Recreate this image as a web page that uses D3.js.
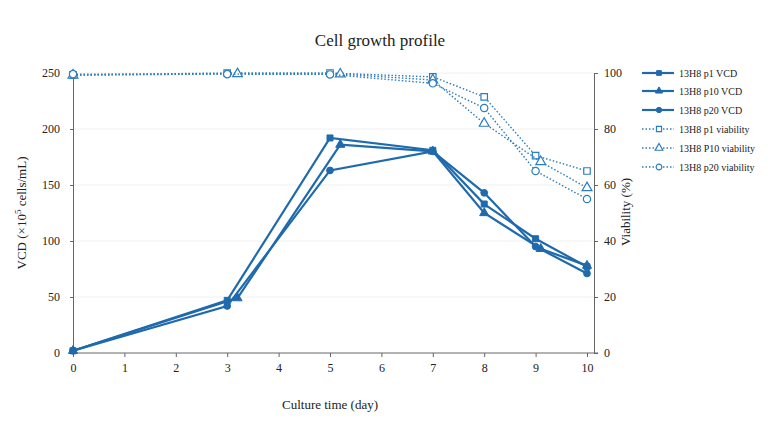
<!DOCTYPE html>
<html><head><meta charset="utf-8">
<script src="https://cdn.jsdelivr.net/npm/d3@7"></script>
<style>body{margin:0;background:#fff}svg{display:block}text{font-family:"Liberation Serif","DejaVu Serif",serif}</style>
</head><body><svg id="c" width="770" height="440"></svg>
<script>
// Data
const seriesNames = ["13H8 p1 VCD","13H8 p10 VCD","13H8 p20 VCD","13H8 p1 viability","13H8 P10 viability","13H8 p20 viability"];
const daysA = [0,3,5,7,8,9,10];
const daysB = [0,3.2,5.2,7,8,9.1,10];
const vcdP1 = [2,47,192,181,133,102,77];
const vcdP10 = [2,49,186,180,125,93,78];
const vcdP20 = [2,42,163,180,143,95,71];
const viaP1 = [99.3,100,100,98.6,91.5,70.5,65];
const viaP10 = [99.2,99.7,99.6,97.5,82,68.3,59];
const viaP20 = [99.6,99.6,99.5,96.3,87.5,65,55];
const xTicks = [0,1,2,3,4,5,6,7,8,9,10];
const yLeftTicks = [0,50,100,150,200,250];
const yRightTicks = [0,20,40,60,80,100];

const svg = d3.select("#c");
const x = d3.scaleLinear().domain([0,10]).range([73,587]);
const yL = d3.scaleLinear().domain([0,250]).range([353,73]);
const yR = d3.scaleLinear().domain([0,100]).range([353,73]);
const solid = "#1f6aad", dotted = "#2d7dbf", axisC = "#666";

// gridlines
svg.append("g").selectAll("line").data(yLeftTicks.slice(1)).join("line")
  .attr("x1",73).attr("x2",594).attr("y1",d=>yL(d)).attr("y2",d=>yL(d))
  .attr("stroke","#f0f0f0").attr("stroke-width",1);

// axes
const fmtAxis = g => { g.selectAll("path,line").attr("stroke",axisC); g.selectAll("text").attr("font-size",12).attr("fill","#222").attr("font-family","Liberation Serif, serif"); };
svg.append("g").attr("transform","translate(0,353)")
  .call(d3.axisBottom(x).tickValues(xTicks).tickSize(4).tickSizeOuter(0).tickPadding(6)).call(fmtAxis)
  .call(g=>g.select(".domain").attr("d","M73,0H598"));
svg.append("g").attr("transform","translate(73,0)")
  .call(d3.axisLeft(yL).tickValues(yLeftTicks).tickSize(3).tickSizeOuter(0).tickPadding(10)).call(fmtAxis);
svg.append("g").attr("transform","translate(594,0)")
  .call(d3.axisRight(yR).tickValues(yRightTicks).tickSize(4).tickSizeOuter(0).tickPadding(6)).call(fmtAxis);

// titles
svg.append("text").attr("x",380).attr("y",46).attr("text-anchor","middle").attr("font-size",17).attr("fill","#222").text("Cell growth profile");
svg.append("text").attr("x",330).attr("y",409).attr("text-anchor","middle").attr("font-size",13).attr("fill","#222").text("Culture time (day)");
svg.append("text").attr("transform","translate(26,213) rotate(-90)").attr("text-anchor","middle").attr("font-size",13).attr("fill","#222")
  .html('VCD (×10<tspan dy="-5" font-size="9">5</tspan><tspan dy="5"> cells/mL)</tspan>');
svg.append("text").attr("transform","translate(630,212) rotate(-90)").attr("text-anchor","middle").attr("font-size",13).attr("fill","#222").text("Viability (%)");

const sym = {square:d3.symbolSquare, triangle:d3.symbolTriangle, circle:d3.symbolCircle};
const series = [
  {name:seriesNames[0], days:daysA, vals:vcdP1, y:yL, shape:"square", fill:true},
  {name:seriesNames[1], days:daysB, vals:vcdP10, y:yL, shape:"triangle", fill:true},
  {name:seriesNames[2], days:daysA, vals:vcdP20, y:yL, shape:"circle", fill:true},
  {name:seriesNames[3], days:daysA, vals:viaP1, y:yR, shape:"square", fill:false},
  {name:seriesNames[4], days:daysB, vals:viaP10, y:yR, shape:"triangle", fill:false},
  {name:seriesNames[5], days:daysA, vals:viaP20, y:yR, shape:"circle", fill:false}
];
function marker(g, s, cx, cy, size){
  g.append("path").attr("d", d3.symbol().type(sym[s.shape]).size(size)())
    .attr("transform",`translate(${cx},${cy})`)
    .attr("fill", s.fill ? solid : "#fff")
    .attr("stroke", s.fill ? solid : dotted).attr("stroke-width", s.fill?1:1.2);
}
// draw viability first, then VCD
[3,4,5,0,1,2].forEach(i=>{
  const s = series[i];
  const pts = s.days.map((d,j)=>[x(d), s.y(s.vals[j])]);
  svg.append("path").attr("d", d3.line()(pts)).attr("fill","none")
    .attr("stroke", s.fill?solid:dotted).attr("stroke-width", s.fill?2.2:1.4)
    .attr("stroke-dasharray", s.fill?null:"1.5,2");
  const g = svg.append("g");
  pts.forEach(p=>marker(g, s, p[0], p[1], s.fill?36:42));
});

// legend
const ly = [73,91,110,129,148,167];
series.forEach((s,i)=>{
  const g = svg.append("g");
  g.append("line").attr("x1",642).attr("x2",674).attr("y1",ly[i]).attr("y2",ly[i])
    .attr("stroke", s.fill?solid:dotted).attr("stroke-width", s.fill?2.2:1.4)
    .attr("stroke-dasharray", s.fill?null:"1.5,2");
  marker(g, s, 659, ly[i], s.fill?22:26);
  g.append("text").attr("x",679).attr("y",ly[i]+3.5).attr("font-size",10).attr("fill","#222").text(s.name);
});
</script></body></html>
